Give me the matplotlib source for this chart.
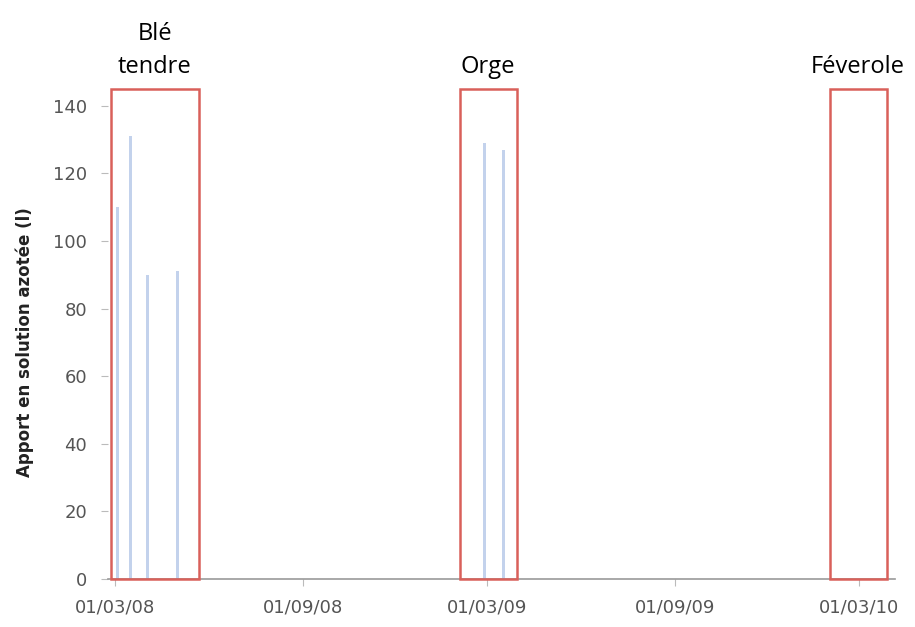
import matplotlib
matplotlib.use("Agg")
import matplotlib.pyplot as plt
import matplotlib.dates as mdates
from matplotlib.patches import Rectangle
import datetime as dt

# Data
dates = ["2008-03-03", "2008-03-16", "2008-04-02", "2008-05-01", "2009-02-26", "2009-03-17"]
values = [110, 131, 90, 91, 129, 127]
tick_dates = ["2008-03-01", "2008-09-01", "2009-03-01", "2009-09-01", "2010-03-01"]
tick_labels = ["01/03/08", "01/09/08", "01/03/09", "01/09/09", "01/03/10"]
crops = ["Blé\ntendre", "Orge", "Féverole"]
crop_box_start = ["2008-02-26", "2009-02-02", "2010-01-31"]
crop_box_end = ["2008-05-22", "2009-03-30", "2010-03-28"]

to_d = lambda s: dt.datetime.strptime(s, "%Y-%m-%d")
x = [mdates.date2num(to_d(d)) for d in dates]

fig = plt.figure(figsize=(9.15, 6.27), dpi=100)
ax = fig.add_axes([0.118, 0.0766, 0.86, 0.7545])

ax.bar(x, values, width=3, color="#c3d2ec", edgecolor="none")

ax.set_xlim(mdates.date2num(to_d("2008-02-23")), mdates.date2num(to_d("2010-04-05")))
ax.set_ylim(0, 140)
ax.set_yticks(range(0, 141, 20))
ax.set_xticks([mdates.date2num(to_d(d)) for d in tick_dates])
ax.set_xticklabels(tick_labels)

for s in ["top", "right", "left"]:
    ax.spines[s].set_visible(False)
ax.spines["bottom"].set_color("#999999")
ax.spines["bottom"].set_linewidth(1.2)
ax.tick_params(axis="both", colors="#bbbbbb", labelcolor="#555555", labelsize=13, length=5)
ax.tick_params(axis="x", pad=9)
ax.tick_params(axis="y", pad=10)
ax.set_ylabel("Apport en solution azotée (l)", fontsize=12, fontweight="bold", color="#222222", labelpad=14)

# Crop boxes and labels
ymax_box = 145
for name, s, e in zip(crops, crop_box_start, crop_box_end):
    x0 = mdates.date2num(to_d(s))
    x1 = mdates.date2num(to_d(e))
    ax.add_patch(Rectangle((x0, 0), x1 - x0, ymax_box, fill=False, edgecolor="#d9605a",
                           linewidth=1.8, clip_on=False, zorder=5))
    ax.text((x0 + x1) / 2, ymax_box + 3, name, ha="center", va="bottom", fontsize=17,
            family="Open Sans", color="black", linespacing=1.5)

fig.savefig("out.png", dpi=100)
